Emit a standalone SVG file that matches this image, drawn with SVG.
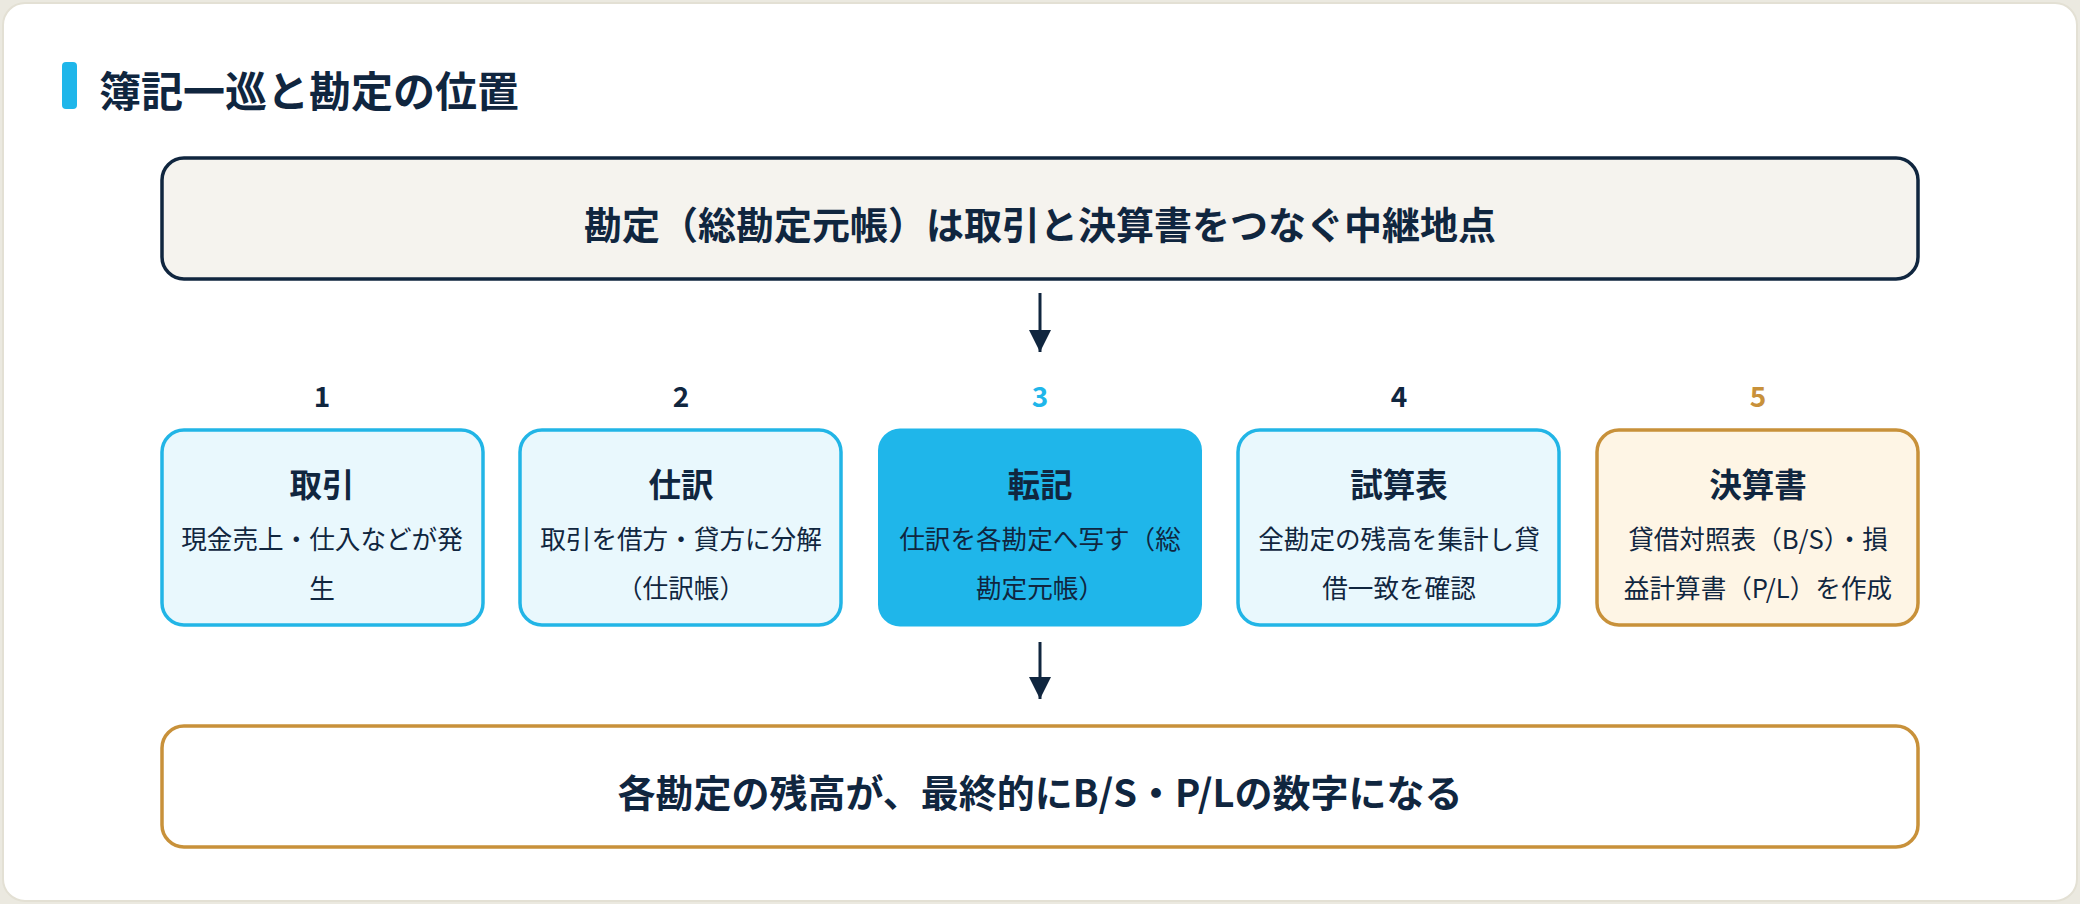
<svg xmlns="http://www.w3.org/2000/svg" width="2080" height="904" viewBox="0 0 2080 904">
<style>
text{font-family:"Noto Sans CJK JP","Noto Sans",sans-serif;fill:#10263f;text-anchor:middle;dominant-baseline:central}
.title{font-size:42px;font-weight:700;text-anchor:start}
.banner{font-size:38px;font-weight:700}
.num{font-size:28px;font-weight:700;dominant-baseline:alphabetic}
.ht{font-size:32.5px;font-weight:700}
.desc{font-size:25.6px;font-weight:400}
.step{fill:#e9f8fd;stroke:#22b5e6;stroke-width:3.5}
.conn{stroke:#10263f;stroke-width:3;fill:none}
</style>
<defs>
<marker id="ah" viewBox="0 0 22 22" markerWidth="22" markerHeight="22" refX="22" refY="11" orient="auto" markerUnits="userSpaceOnUse">
<path d="M0,0 L22,11 L0,22 Z" fill="#10263f"/>
</marker>
</defs>
<rect x="0" y="0" width="2080" height="904" fill="#ebe9e0"/>
<rect x="3" y="3" width="2074" height="898" rx="22" fill="#ffffff" stroke="#e3e0d4" stroke-width="2"/>
<g id="heading">
<rect x="62" y="62" width="15" height="47" rx="4" fill="#1fb6ea"/>
<text class="title" x="99" y="88">簿記一巡と勘定の位置</text>
</g>
<g id="banner-top">
<rect x="162" y="158" width="1756" height="121" rx="22" fill="#f5f3ee" stroke="#10263f" stroke-width="3.5"/>
<text class="banner" x="1040" y="222">勘定（総勘定元帳）は取引と決算書をつなぐ中継地点</text>
</g>
<g id="step1">
<text class="num" x="322" y="407">1</text>
<rect class="step" x="162" y="430" width="321" height="195" rx="22"/>
<text class="ht" x="322" y="482">取引</text>
<text class="desc" x="322" y="537">現金売上・仕入などが発</text>
<text class="desc" x="322" y="586">生</text>
</g>
<g id="step2">
<text class="num" x="681" y="407">2</text>
<rect class="step" x="520" y="430" width="321" height="195" rx="22"/>
<text class="ht" x="681" y="482">仕訳</text>
<text class="desc" x="681" y="537">取引を借方・貸方に分解</text>
<text class="desc" x="681" y="586">（仕訳帳）</text>
</g>
<g id="step3">
<text class="num" x="1040" y="407" style="fill:#1fb6ea">3</text>
<rect x="878" y="428.5" width="324" height="198" rx="22" fill="#1fb6ea"/>
<text class="ht" x="1040" y="482">転記</text>
<text class="desc" x="1040" y="537">仕訳を各勘定へ写す（総</text>
<text class="desc" x="1040" y="586">勘定元帳）</text>
</g>
<g id="step4">
<text class="num" x="1399" y="407">4</text>
<rect class="step" x="1238" y="430" width="321" height="195" rx="22"/>
<text class="ht" x="1399" y="482">試算表</text>
<text class="desc" x="1399" y="537">全勘定の残高を集計し貸</text>
<text class="desc" x="1399" y="586">借一致を確認</text>
</g>
<g id="step5">
<text class="num" x="1758" y="407" style="fill:#c8913a">5</text>
<rect x="1597" y="430" width="321" height="195" rx="22" fill="#fef5e5" stroke="#c8913a" stroke-width="3.5"/>
<text class="ht" x="1758" y="482">決算書</text>
<text class="desc" x="1758" y="537">貸借対照表（B/S）・損</text>
<text class="desc" x="1758" y="586">益計算書（P/L）を作成</text>
</g>
<g id="banner-bottom">
<rect x="162" y="726" width="1756" height="121" rx="22" fill="#ffffff" stroke="#c8913a" stroke-width="3.5"/>
<text class="banner" x="1040" y="790">各勘定の残高が、最終的にB/S・P/Lの数字になる</text>
</g>
<g id="connectors">
<line class="conn" x1="1040" y1="293" x2="1040" y2="352" marker-end="url(#ah)"/>
<line class="conn" x1="1040" y1="642" x2="1040" y2="699" marker-end="url(#ah)"/>
</g>
</svg>
